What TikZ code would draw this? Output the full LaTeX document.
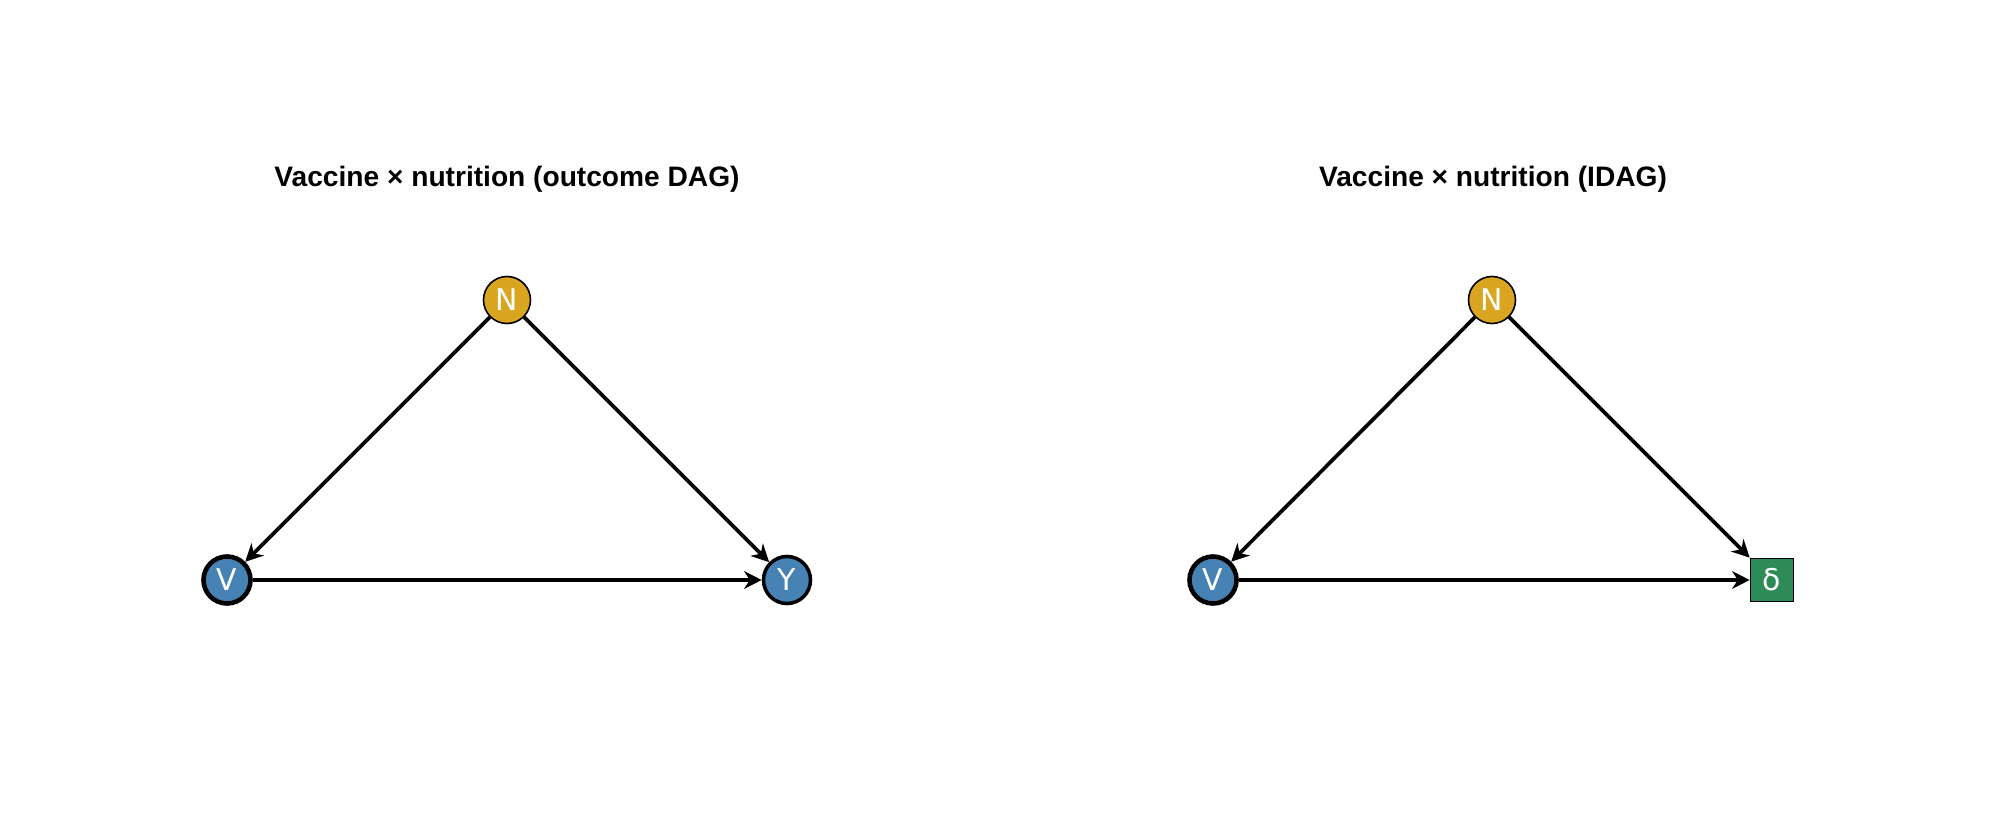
\documentclass[tikz,border=0pt]{standalone}
\usepackage{fontspec}
\setmainfont{Liberation Sans}
\newfontfamily\nodefont{DejaVu Sans}
\usetikzlibrary{arrows.meta}

\begin{document}
\begin{tikzpicture}[x=0.01cm, y=-0.01cm,
    var/.style={circle, draw=black, minimum size=0.47cm, inner sep=0pt,
      text=white, font=\nodefont\fontsize{8.5}{8.5}\selectfont},
    utility/.style={rectangle, draw=black, line width=0.45pt, fill=deltagreen,
      minimum size=0.43cm, inner sep=0pt, text=white,
      font=\nodefont\fontsize{8.5}{8.5}\selectfont},
    paneltitle/.style={font=\bfseries\fontsize{8}{9.6}\selectfont},
    edge/.style={-{Stealth[length=5pt, width=5pt]}, line width=1.05pt}]
    \definecolor{nutgold}{HTML}{DAA520}
    \definecolor{vacblue}{HTML}{4682B4}
    \definecolor{deltagreen}{HTML}{2E8B57}
    \useasboundingbox (0,0) rectangle (2000,840);

    % Define nodes (outcome DAG)
    \node [paneltitle] (titleA) at (507,179) {Vaccine × nutrition (outcome DAG)};
    \node [var, fill=nutgold, line width=0.45pt] (nA) at (507,300) {N};
    \node [var, fill=vacblue, line width=1.3pt] (vA) at (227,580) {V};
    \node [var, fill=vacblue, line width=1pt] (yA) at (787,580) {Y};

    % Define nodes (IDAG)
    \node [paneltitle] (titleB) at (1493,179) {Vaccine × nutrition (IDAG)};
    \node [var, fill=nutgold, line width=0.45pt] (nB) at (1492,300) {N};
    \node [var, fill=vacblue, line width=1.3pt] (vB) at (1213,580) {V};
    \node [utility] (dB) at (1772,580) {δ};

    % Draw edges
    \draw [edge] (nA) -- (vA);
    \draw [edge] (nA) -- (yA);
    \draw [edge] (vA) -- (yA);
    \draw [edge] (nB) -- (vB);
    \draw [edge] (nB) -- (dB);
    \draw [edge] (vB) -- (dB);
\end{tikzpicture}
\end{document}
